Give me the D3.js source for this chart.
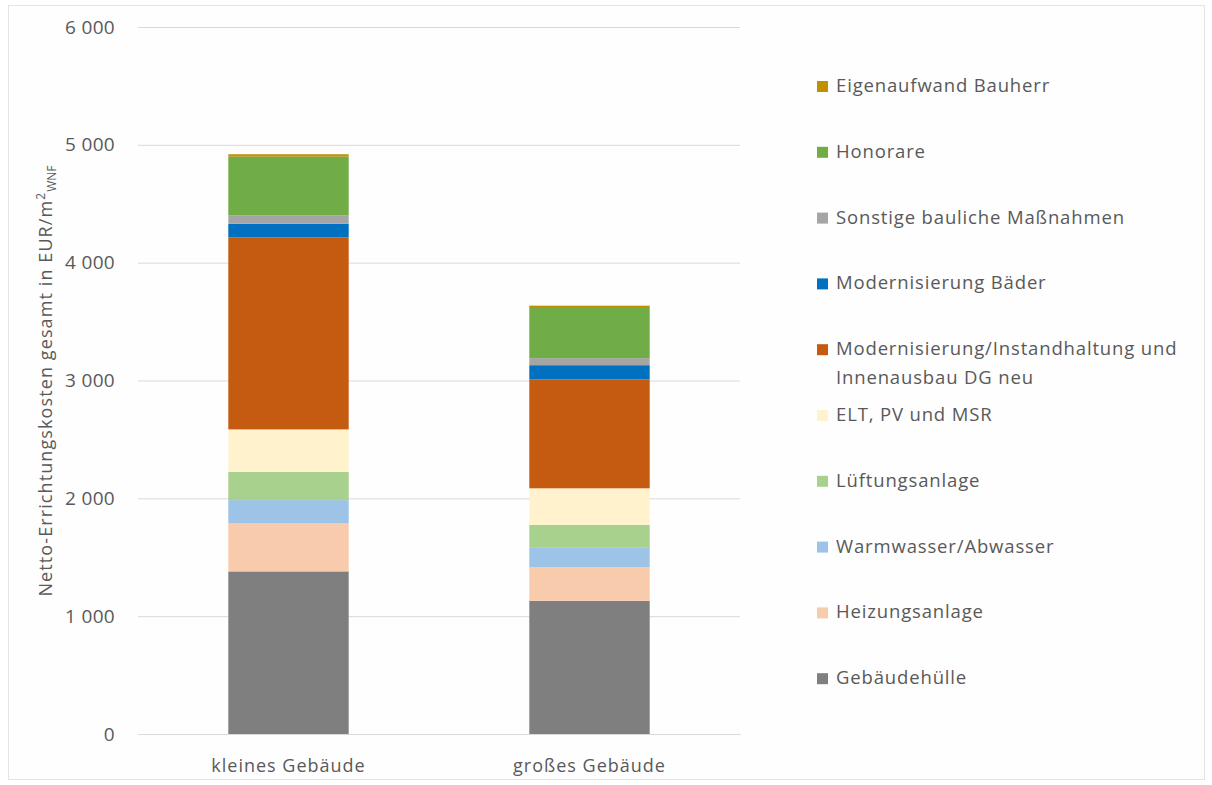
<!DOCTYPE html>
<html><head><meta charset="utf-8">
<script src="https://cdn.jsdelivr.net/npm/d3@7"></script>
<style>body{margin:0;background:#fff}text{font-family:"Open Sans",Lato,sans-serif}</style>
</head><body><svg id="c" width="1212" height="785"></svg>
<script>
const categories = ["kleines Gebäude", "großes Gebäude"];
const seriesNames = ["Gebäudehülle","Heizungsanlage","Warmwasser/Abwasser","Lüftungsanlage","ELT, PV und MSR","Modernisierung/Instandhaltung und Innenausbau DG neu","Modernisierung Bäder","Sonstige bauliche Maßnahmen","Honorare","Eigenaufwand Bauherr"];
const kleinesValues = [1380, 410, 195, 240, 360, 1630, 115, 70, 500, 20];
const grossesValues = [1130, 285, 165, 195, 310, 925, 120, 60, 425, 20];
const seriesColors = ["#7f7f7f","#f8cbad","#9dc3e6","#a9d18e","#fff2cc","#c55a11","#0070c0","#a5a5a5","#70ad47","#bf9000"];
const yTicks = [0,1000,2000,3000,4000,5000,6000];

const svg = d3.select("#c");
svg.append("rect").attr("x",8.5).attr("y",5.5).attr("width",1196).attr("height",774)
  .attr("fill","#fefefe").attr("stroke","#e4e4e4");

const x = d3.scaleBand().domain(categories).range([138,740]).paddingInner(0.6).paddingOuter(0.3);
const y = d3.scaleLinear().domain([0,6000]).range([734,27]);

const fmt = v => d3.format(",")(v).replace(/,/g," ");
const ya = svg.append("g").attr("transform","translate(138,0)")
  .call(d3.axisLeft(y).tickValues(yTicks).tickSize(-602).tickFormat(fmt));
ya.select(".domain").remove();
ya.selectAll(".tick line").attr("stroke","#d9d9d9").attr("stroke-width",1);
ya.selectAll(".tick text").attr("x",-23).attr("fill","#595959").style("font-size","19px").style("letter-spacing","0.3px");

const rows = categories.map((c,i)=>{const o={cat:c}; seriesNames.forEach((s,j)=>o[s]=(i===0?kleinesValues:grossesValues)[j]); return o;});
const stack = d3.stack().keys(seriesNames)(rows);
svg.append("g").selectAll("g").data(stack).join("g").attr("fill",(d,i)=>seriesColors[i])
  .selectAll("rect").data(d=>d).join("rect")
  .attr("x",d=>x(d.data.cat)).attr("width",x.bandwidth())
  .attr("y",d=>y(d[1])).attr("height",d=>y(d[0])-y(d[1]));

const xa = svg.append("g").attr("transform","translate(0,734)").call(d3.axisBottom(x).tickSize(0));
xa.select(".domain").attr("stroke","#d9d9d9");
xa.selectAll(".tick text").attr("dy",0).attr("y",38).attr("fill","#595959").style("font-size","18px").style("letter-spacing","1px");

// y axis title
const yt = svg.append("text").attr("transform","translate(52,381) rotate(-90)").attr("text-anchor","middle")
  .attr("fill","#595959").style("font-size","18px").style("letter-spacing","1.1px");
yt.append("tspan").text("Netto-Errichtungskosten gesamt in EUR/m");
yt.append("tspan").text("2").attr("dy",-7).style("font-size","12px");
yt.append("tspan").text("WNF").attr("dy",11).style("font-size","12px").style("letter-spacing","0px");

// legend
const legendOrder = seriesNames.map((s,i)=>i).reverse();
const lg = svg.append("g");
legendOrder.forEach((si,k)=>{
  const cy = 86 + k*65.8;
  lg.append("rect").attr("x",817).attr("y",cy-5).attr("width",11).attr("height",11).attr("fill",seriesColors[si]);
  const t = lg.append("text").attr("x",836).attr("y",cy+6).attr("fill","#595959").style("font-size","18.5px").style("letter-spacing","0.85px");
  if (si===5){
    t.append("tspan").text("Modernisierung/Instandhaltung und");
    t.append("tspan").attr("x",836).attr("dy",29).text("Innenausbau DG neu");
  } else t.text(seriesNames[si]);
});
</script></body></html>
